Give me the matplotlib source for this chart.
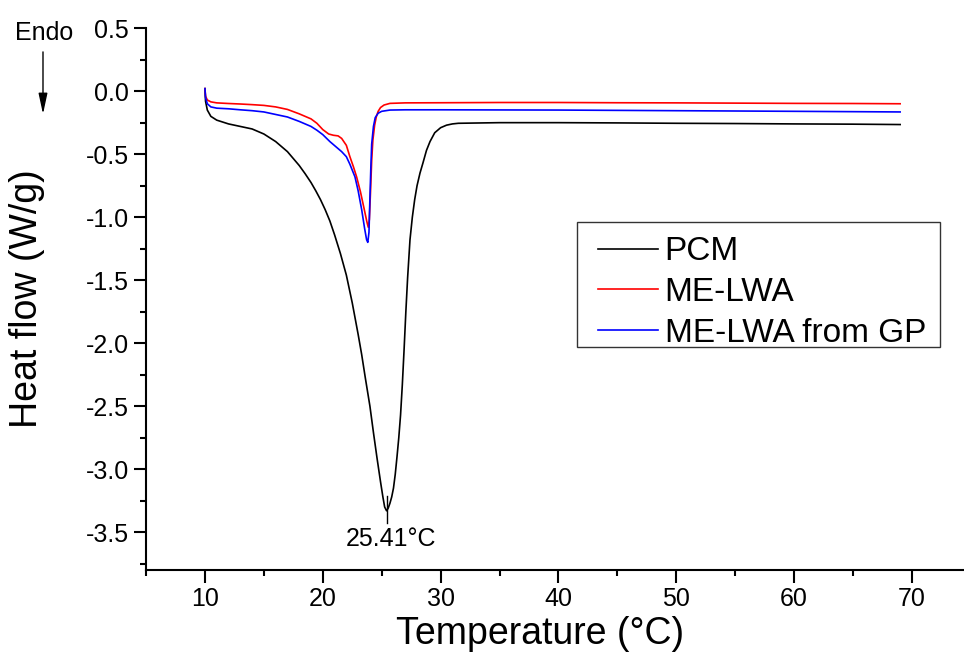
import matplotlib
matplotlib.use("Agg")
import matplotlib.pyplot as plt
from matplotlib.patches import Rectangle, FancyArrowPatch
from matplotlib.ticker import MultipleLocator

plt.rcParams['font.family'] = ['Liberation Sans', 'DejaVu Sans']
plt.rcParams['axes.unicode_minus'] = False

# DSC curves
pcm_t = [10.0, 10.05, 10.2, 10.5, 11.0, 11.5, 12.0, 13.0, 14.0, 15.0, 16.0, 17.0, 18.0,
         18.5, 19.0, 19.4, 19.8, 20.2, 20.6, 21.0, 21.5, 22.0, 22.5, 23.0, 23.3, 23.6,
         24.0, 24.3, 24.6, 24.9, 25.1, 25.25, 25.41, 25.55, 25.7, 25.85, 26.0, 26.15,
         26.3, 26.45, 26.6, 26.75, 26.9, 27.05, 27.2, 27.4, 27.6, 27.8, 28.0, 28.25,
         28.5, 28.8, 29.1, 29.5, 30.0, 30.5, 31.0, 31.5, 35, 40, 45, 50, 55, 60, 65, 69]
pcm_hf = [0.02, -0.08, -0.15, -0.20, -0.23, -0.245, -0.26, -0.28, -0.30, -0.34, -0.40,
          -0.48, -0.59, -0.655, -0.725, -0.79, -0.86, -0.94, -1.03, -1.14, -1.29, -1.46,
          -1.68, -1.93, -2.09, -2.27, -2.50, -2.71, -2.91, -3.10, -3.22, -3.30, -3.33,
          -3.31, -3.27, -3.22, -3.15, -3.04, -2.90, -2.75, -2.57, -2.33, -2.05, -1.75,
          -1.48, -1.18, -1.00, -0.86, -0.75, -0.65, -0.57, -0.47, -0.40, -0.33, -0.29,
          -0.27, -0.26, -0.255, -0.25, -0.25, -0.252, -0.255, -0.257, -0.26, -0.262,
          -0.265]

lwa_t = [10.0, 10.05, 10.2, 10.5, 11.0, 12, 13, 14, 15, 16, 17, 18, 19, 19.5, 20.0,
         20.5, 20.9, 21.3, 21.6, 22.0, 22.3, 22.6, 22.87, 23.2, 23.5, 23.75, 23.86,
         23.95, 24.05, 24.15, 24.25, 24.4, 24.55, 24.7, 24.9, 25.2, 25.7, 27, 30, 35,
         40, 45, 50, 55, 60, 65, 69]
lwa_hf = [0.02, -0.04, -0.07, -0.085, -0.093, -0.098, -0.102, -0.107, -0.113, -0.125,
          -0.145, -0.18, -0.22, -0.255, -0.305, -0.34, -0.35, -0.355, -0.375, -0.43,
          -0.52, -0.60, -0.68, -0.80, -0.93, -1.04, -1.08, -1.02, -0.80, -0.55, -0.39,
          -0.27, -0.20, -0.16, -0.13, -0.11, -0.097, -0.093, -0.092, -0.09, -0.09,
          -0.092, -0.093, -0.095, -0.097, -0.098, -0.10]

gp_t = [10.0, 10.05, 10.2, 10.5, 11, 12, 13, 14, 15, 16, 17, 18, 19, 19.5, 20, 20.6,
        21.1, 21.6, 22.0, 22.3, 22.73, 23.0, 23.3, 23.55, 23.72, 23.82, 23.92, 24.0,
        24.08, 24.15, 24.3, 24.45, 24.7, 25.0, 25.7, 27, 30, 40, 50, 60, 69]
gp_hf = [0.02, -0.05, -0.10, -0.125, -0.135, -0.14, -0.148, -0.155, -0.165, -0.185,
         -0.205, -0.24, -0.28, -0.31, -0.345, -0.40, -0.44, -0.48, -0.52, -0.58, -0.68,
         -0.79, -0.94, -1.09, -1.18, -1.20, -1.12, -0.85, -0.60, -0.42, -0.28, -0.21,
         -0.175, -0.16, -0.15, -0.148, -0.148, -0.15, -0.155, -0.16, -0.165]

labels = ['PCM', 'ME-LWA', 'ME-LWA from GP']
colors = ['black', 'red', 'blue']
peak_t = 25.41
peak_hf = -3.33

fig = plt.figure(figsize=(9.64, 6.64), dpi=100)
ax = fig.add_axes([0.1515, 0.1416, 0.8556, 0.816])

for t, hf, lab, c in zip([pcm_t, lwa_t, gp_t], [pcm_hf, lwa_hf, gp_hf], labels, colors):
    ax.plot(t, hf, color=c, lw=1.2, label=lab)

# peak marker + label
ax.plot([peak_t, peak_t], [peak_hf + 0.12, peak_hf - 0.10], color='black', lw=1.0)
ax.text(peak_t + 0.4, peak_hf - 0.13, f'{peak_t}°C', ha='center', va='top', fontsize=18)

ax.set_xlim(5, 75)
ax.set_ylim(-3.8, 0.5)
ax.xaxis.set_major_locator(MultipleLocator(10))
ax.xaxis.set_minor_locator(MultipleLocator(5))
ax.yaxis.set_major_locator(MultipleLocator(0.5))
ax.yaxis.set_minor_locator(MultipleLocator(0.25))
ax.set_xticks([10, 20, 30, 40, 50, 60, 70])
ax.set_yticks([0.5, 0.0, -0.5, -1.0, -1.5, -2.0, -2.5, -3.0, -3.5])

ax.spines['top'].set_visible(False)
ax.spines['right'].set_visible(False)
for s in ['left', 'bottom']:
    ax.spines[s].set_linewidth(1.5)
ax.tick_params(which='major', direction='out', length=9, width=1.5, labelsize=18)
ax.tick_params(which='minor', direction='out', length=4.5, width=1.5)

ax.set_xlabel('Temperature (°C)', fontsize=27)
ax.set_ylabel('Heat flow (W/g)', fontsize=27)
ax.xaxis.set_label_coords(0.4776, -0.085)
ax.yaxis.set_label_coords(-0.122, 0.5)

# legend without its own frame, box drawn separately (wider side padding)
fig.legend(loc='upper left', bbox_to_anchor=(0.6203, 0.644), fontsize=24,
           frameon=False, handlelength=1.8, handletextpad=0.2,
           labelspacing=0.29, borderpad=0, borderaxespad=0)
fig.patches.append(Rectangle((577 / 964, 1 - 347 / 664), 363 / 964, 125 / 664,
                             transform=fig.transFigure, fill=False,
                             edgecolor='#333333', lw=1.0))

# Endo arrow
fig.text(0.046, 0.95, 'Endo', ha='center', va='center', fontsize=18)
fig.patches.append(FancyArrowPatch(
    (0.0446, 0.926), (0.0446, 0.824), transform=fig.transFigure,
    arrowstyle='-|>,head_width=0.15,head_length=0.7', mutation_scale=18,
    color='black', lw=1.0))

fig.savefig('out.png', dpi=100)
